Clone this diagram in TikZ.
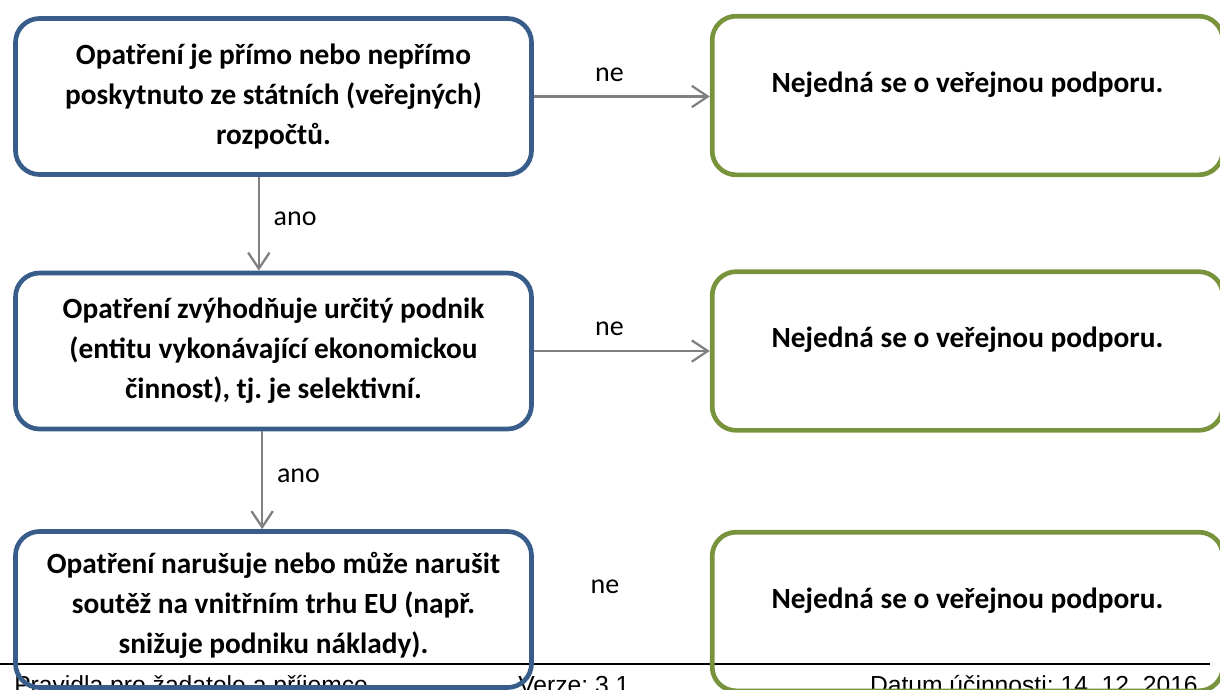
\documentclass[tikz,border=0pt]{standalone}
\usepackage{fontspec}
\setmainfont{Carlito}
\newfontfamily\footfont{Liberation Sans}
\usetikzlibrary{arrows.meta}
\definecolor{boxblue}{RGB}{56,93,138}
\definecolor{boxgreen}{RGB}{119,147,60}
\definecolor{arrgray}{RGB}{128,128,128}
\frenchspacing

\begin{document}
\begin{tikzpicture}[x=0.75pt, y=-0.75pt,
	cond/.style={draw=boxblue, line width=3.5pt, rounded corners=18pt,
	minimum width=387pt, minimum height=117pt, align=center,
	font=\fontsize{22}{30}\selectfont\bfseries},
	nope/.style={draw=boxgreen, line width=3.5pt, rounded corners=18pt,
	minimum width=383pt, minimum height=119pt, text height=15pt, text depth=20pt,
	font=\fontsize{22}{30}\selectfont\bfseries},
	lbl/.style={font=\fontsize{21}{24}\selectfont},
	foot/.style={font=\footfont\fontsize{18.5}{22}\selectfont, inner sep=0pt},
	conn/.style={draw=arrgray, line width=1.7pt},
	>={Straight Barb[length=12pt,width=16pt]}]

\useasboundingbox (0,0) rectangle (1220,689);

% page footer
\draw[line width=1.4pt] (0,664) -- (1210,664);
\node[foot, anchor=base west] (f1) at (14,693) {Pravidla pro žadatele a příjemce};
\node[foot, anchor=base west] (f2) at (518,693) {Verze: 3.1};
\node[foot, anchor=base east] (f3) at (1198,693) {Datum účinnosti: 14. 12. 2016};

\node[cond] (q1) at (273.5,96.5) {Opatření je přímo nebo nepřímo\\poskytnuto ze státních (veřejných)\\rozpočtů.};
\node[cond] (q2) at (273.5,351) {Opatření zvýhodňuje určitý podnik\\(entitu vykonávající ekonomickou\\činnost), tj. je selektivní.};
\node[cond, text depth=10pt] (q3) at (273.5,609.5) {Opatření narušuje nebo může narušit\\soutěž na vnitřním trhu EU (např.\\snižuje podniku náklady).};

\node[nope] (n1) at (967.5,95.5) {Nejedná se o veřejnou podporu.};
\node[nope] (n2) at (967.5,351) {Nejedná se o veřejnou podporu.};
\node[nope] (n3) at (967.5,611.5) {Nejedná se o veřejnou podporu.};

\draw[conn,->] (q1.east) -- (q1.east -| n1.west) node[lbl,pos=.43,above=7pt] (ne1) {ne};
\draw[conn,->] (q2.east) -- (q2.east -| n2.west) node[lbl,pos=.43,above=7pt] (ne2) {ne};
\node[lbl] (ne3) at (605,587) {ne};

\draw[conn,->] ([xshift=-11pt]q1.south) -- ([xshift=-11pt]q2.north) node[lbl,pos=.45,right=7pt] (ano1) {ano};
\draw[conn,->] ([xshift=-8.5pt]q2.south) -- ([xshift=-8.5pt]q3.north) node[lbl,pos=.45,right=7pt] (ano2) {ano};
\end{tikzpicture}
\end{document}
